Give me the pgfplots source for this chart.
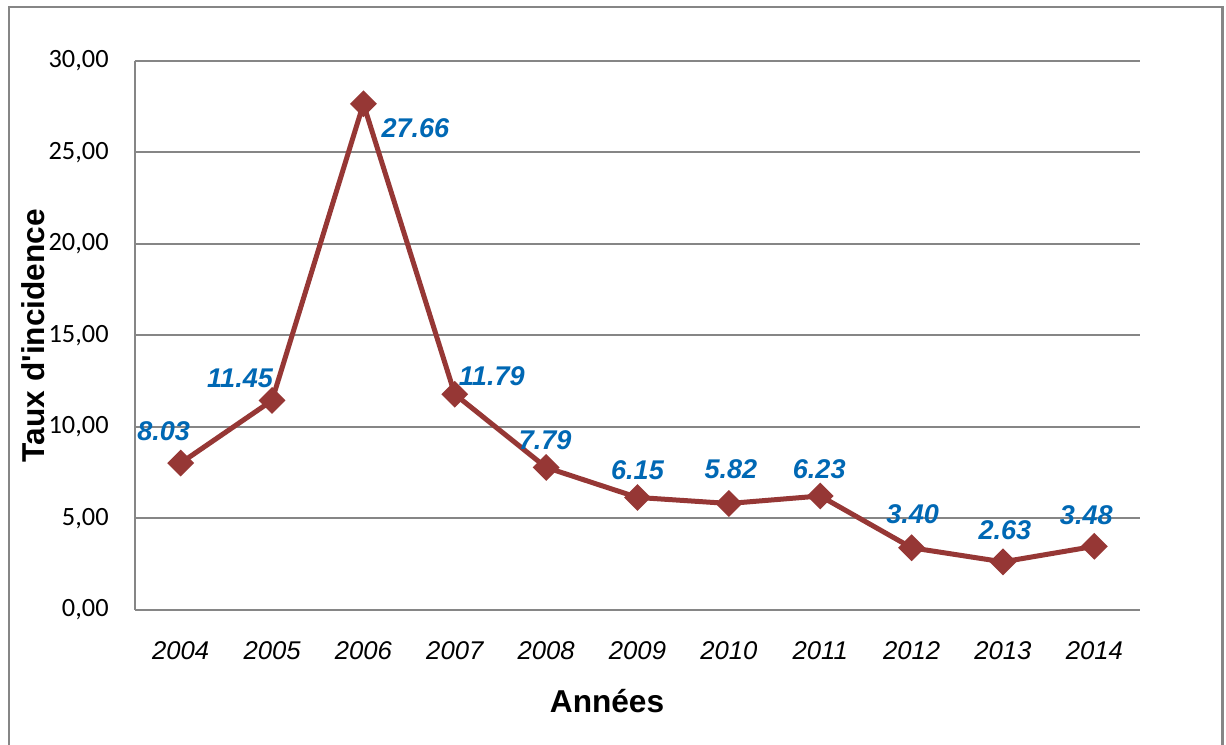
\documentclass[border=0pt]{standalone}
\usepackage{pgfplots}
\usepackage{pgfplotstable}
\pgfplotsset{compat=1.18}
\usepackage{fontspec}
\setmainfont{Liberation Sans}
\newfontfamily\carlito{Carlito}
\definecolor{linered}{RGB}{150,55,53}
\definecolor{labblue}{RGB}{0,104,180}
\definecolor{gridgray}{RGB}{134,134,134}

\pgfplotstableread{
x y lab dx dy
0 8.03 8.03 -17 32
1 11.45 11.45 -32 22
2 27.66 27.66 52 -24
3 11.79 11.79 37 18
4 7.79 7.79 -1 27
5 6.15 6.15 0 27
6 5.82 5.82 2 34
7 6.23 6.23 -1 27
8 3.40 3.40 1 34
9 2.63 2.63 2 32
10 3.48 3.48 -8 31
}\datatable

\begin{document}
\begin{tikzpicture}
\clip (0,0) rectangle (24.52cm,14.90cm);
\fill[white] (0,0) rectangle (24.52cm,14.90cm);
\draw[gridgray, line width=0.05cm] (0.18cm,-1cm) rectangle (24.45cm,14.76cm);
\begin{axis}[
  at={(2.70cm,2.70cm)}, anchor=south west,
  scale only axis, width=20.1cm, height=10.98cm,
  xmin=-0.5, xmax=10.5, ymin=0, ymax=30,
  axis x line*=bottom, axis y line*=left,
  axis line style={gridgray, line width=0.04cm, -},
  xtick={0,...,10},
  xticklabels={2004,2005,2006,2007,2008,2009,2010,2011,2012,2013,2014},
  ytick={0,5,10,15,20,25,30},
  yticklabels={{0,00},{5,00},{10,00},{15,00},{20,00},{25,00},{30,00}},
  major tick length=0pt,
  ymajorgrids, grid style={gridgray, line width=0.04cm},
  xticklabel style={font=\fontsize{14.6pt}{17pt}\selectfont\itshape, anchor=base, inner sep=0pt, yshift=-1.0cm},
  yticklabel style={font=\carlito\fontsize{15pt}{18pt}\selectfont, anchor=east, inner sep=0pt, xshift=-0.52cm},
  xlabel={Années},
  ylabel={Taux d\textquotesingle incidence},
  xlabel style={font=\fontsize{18pt}{21pt}\selectfont\bfseries, at={(axis description cs:0.4697,-0.1858)}, anchor=base},
  ylabel style={font=\fontsize{18pt}{21pt}\selectfont\bfseries, at={(axis description cs:-0.0896,0.5)}, anchor=base, rotate=0},
  clip=false,
]
\addplot[color=linered, line width=0.1cm, mark=square*, mark options={rotate=45, solid, fill=linered}, mark size=0.14cm,
  nodes near coords, point meta=explicit symbolic,
  visualization depends on={\thisrow{dx}\as\ofx},
  visualization depends on={\thisrow{dy}\as\ofy},
  every node near coord/.append style={anchor=center, inner sep=0pt, xshift=\ofx*0.02cm, yshift=\ofy*0.02cm,
    font=\fontsize{15.4pt}{18pt}\selectfont\bfseries\itshape, text=labblue}
] table[x=x, y=y, meta=lab] {\datatable};
\end{axis}
\end{tikzpicture}
\end{document}
